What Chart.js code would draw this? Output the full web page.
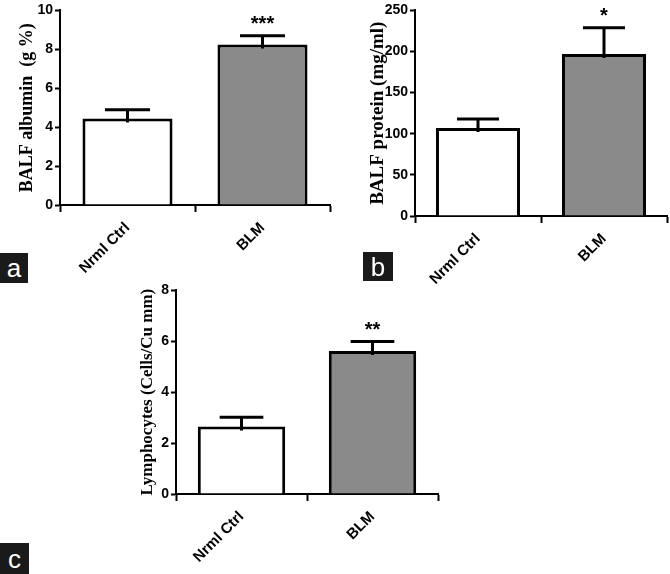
<!DOCTYPE html>
<html>
<head>
<meta charset="utf-8">
<script src="https://cdn.jsdelivr.net/npm/chart.js@4"></script>
<style>
  body { margin: 0; background: #fff; width: 670px; height: 574px; position: relative; overflow: hidden; }
  canvas { position: absolute; }
  .tag { position: absolute; background: #1a1a1a; color: #fff; font: 26px "Liberation Sans", Arial, sans-serif;
         display: flex; align-items: center; justify-content: center; line-height: 1; }
</style>
</head>
<body>
<canvas id="chart-a" width="335" height="290" style="left:0;top:0"></canvas>
<canvas id="chart-b" width="340" height="290" style="left:330px;top:0"></canvas>
<canvas id="chart-c" width="320" height="294" style="left:130px;top:280px"></canvas>
<div class="tag" style="left:0;top:253px;width:28px;height:30px">a</div>
<div class="tag" style="left:363px;top:252px;width:30px;height:29px">b</div>
<div class="tag" style="left:0;top:543px;width:29px;height:31px">c</div>
<script>
const groups = ['Nrml Ctrl', 'BLM'];

const albuminMean = [4.45, 8.25];
const albuminSem = [0.45, 0.45];
const albuminStars = ['', '***'];

const proteinMean = [107, 197];
const proteinSem = [11, 32];
const proteinStars = ['', '*'];

const lymphMean = [2.65, 5.62];
const lymphSem = [0.37, 0.37];
const lymphStars = ['', '**'];

const tickFont = { family: '"Liberation Sans", Arial, sans-serif', size: 14, weight: 'bold' };
const xTickFont = { family: '"Liberation Sans", Arial, sans-serif', size: 15, weight: 'bold' };
const titleFont = { family: '"Liberation Serif", "Times New Roman", serif', weight: 'bold' };

// whisker up from bar top with a cap, plus star text above it
const errorBars = {
    id: 'errorBars',
    afterDatasetsDraw(chart, args, opts) {
        const meta = chart.getDatasetMeta(0);
        const y = chart.scales.y;
        const ctx = chart.ctx;
        ctx.save();
        ctx.strokeStyle = '#000';
        ctx.lineWidth = 3;
        meta.data.forEach((bar, i) => {
            const top = y.getPixelForValue(opts.mean[i] + opts.sem[i]);
            const half = bar.width / 4;
            ctx.beginPath();
            ctx.moveTo(bar.x, bar.y + 4);
            ctx.lineTo(bar.x, top);
            ctx.moveTo(bar.x - half, top);
            ctx.lineTo(bar.x + half, top);
            ctx.stroke();
            if (opts.stars[i]) {
                ctx.fillStyle = '#000';
                ctx.font = 'bold 20px "Liberation Sans", Arial, sans-serif';
                ctx.textAlign = 'center';
                ctx.textBaseline = 'middle';
                ctx.fillText(opts.stars[i], bar.x, top - 11);
            }
        });
        ctx.restore();
    }
};

function makePanel(id, cfg) {
    return new Chart(document.getElementById(id), {
        type: 'bar',
        data: {
            labels: groups,
            datasets: [{
                data: cfg.mean,
                backgroundColor: ['#ffffff', '#8a8a8a'],
                borderColor: '#000',
                borderWidth: 3,
                borderSkipped: 'bottom',
                categoryPercentage: 1,
                barPercentage: 0.667
            }]
        },
        options: {
            responsive: false,
            animation: false,
            layout: { padding: cfg.padding },
            plugins: {
                legend: { display: false },
                tooltip: { enabled: false },
                errorBars: { mean: cfg.mean, sem: cfg.sem, stars: cfg.stars }
            },
            scales: {
                x: {
                    grid: { drawOnChartArea: false, drawTicks: true, tickLength: 7, tickWidth: 2, tickColor: '#000' },
                    border: { display: true, color: '#000', width: 2 },
                    ticks: { color: '#000', font: xTickFont, minRotation: 45, maxRotation: 45, padding: 7 },
                    afterFit: s => { s.height = cfg.xHeight; }
                },
                y: {
                    min: 0,
                    max: cfg.max,
                    grid: { drawOnChartArea: false, drawTicks: true, tickLength: 5, tickWidth: 2, tickColor: '#000' },
                    border: { display: true, color: '#000', width: 2 },
                    ticks: { color: '#000', font: tickFont, stepSize: cfg.step, padding: 2 },
                    title: { display: true, text: cfg.title, color: '#000',
                             font: Object.assign({ size: cfg.titleSize }, titleFont),
                             padding: { top: cfg.titlePad, bottom: 0 } },
                    afterFit: s => { s.width = cfg.yWidth; }
                }
            }
        },
        plugins: [errorBars]
    });
}

makePanel('chart-a', {
    mean: albuminMean, sem: albuminSem, stars: albuminStars,
    max: 10, step: 2, title: 'BALF albumin  (g %)', titleSize: 18, titlePad: 17,
    padding: { top: 7, right: 5, left: 0, bottom: 0 }, yWidth: 60, xHeight: 85
});

makePanel('chart-b', {
    mean: proteinMean, sem: proteinSem, stars: proteinStars,
    max: 250, step: 50, title: 'BALF protein (mg/ml)', titleSize: 19, titlePad: 37,
    padding: { top: 8, right: 3, left: 0, bottom: 0 }, yWidth: 85, xHeight: 74
});

makePanel('chart-c', {
    mean: lymphMean, sem: lymphSem, stars: lymphStars,
    max: 8, step: 2, title: 'Lymphocytes (Cells/Cu mm)', titleSize: 17, titlePad: 7,
    padding: { top: 8, right: 12, left: 0, bottom: 0 }, yWidth: 46, xHeight: 80
});
</script>
</body>
</html>
